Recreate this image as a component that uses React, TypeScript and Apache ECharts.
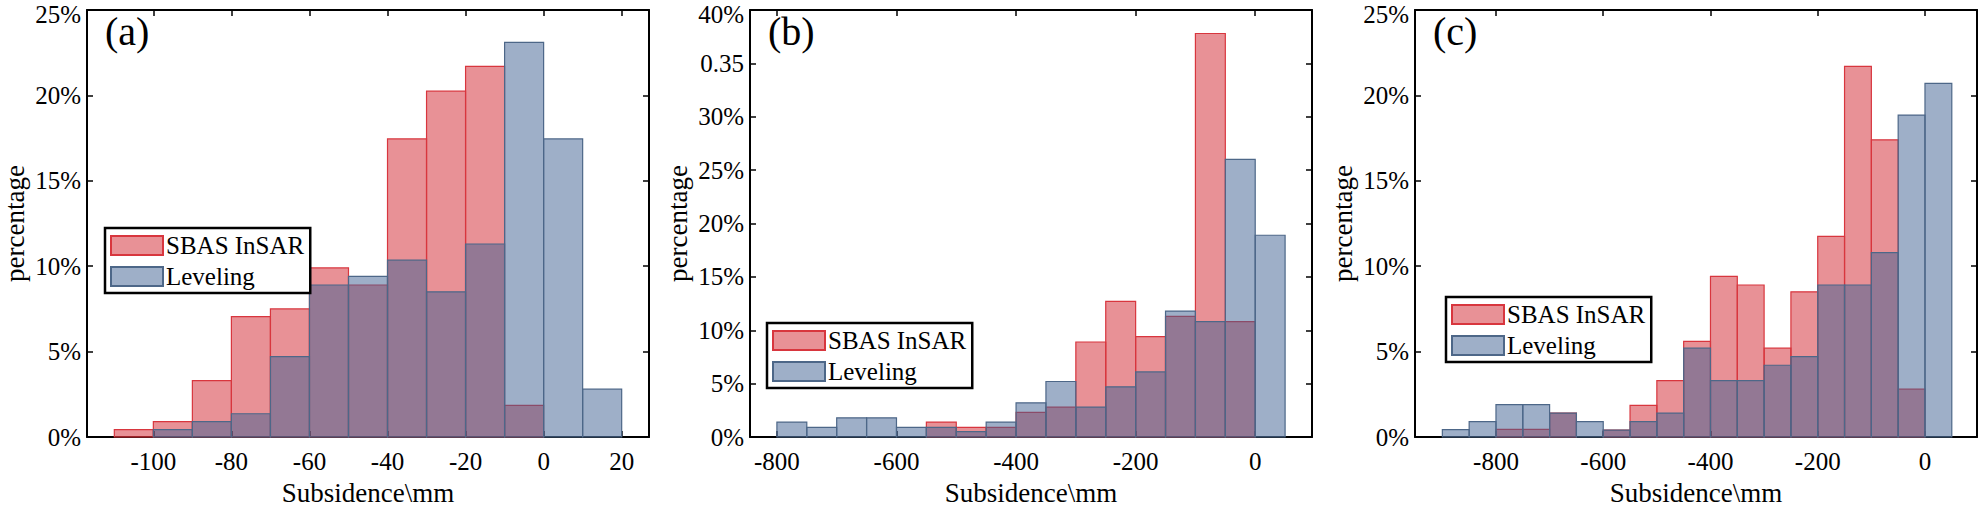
import React, { useEffect, useRef } from "react";
import * as echarts from "echarts";

const binWidthA = 10;
const startA = -110;
const sbasA = [0.43, 0.9, 3.3, 7.05, 7.5, 9.9, 8.9, 17.45, 20.25, 21.7, 1.85, 0, 0];
const levA = [0, 0.43, 0.9, 1.36, 4.7, 8.9, 9.4, 10.35, 8.5, 11.3, 23.1, 17.45, 2.8];
const xTicksA = [-100, -80, -60, -40, -20, 0, 20];

const binWidthB = 50;
const startB = -800;
const sbasB = [0, 0, 0, 0, 0, 1.4, 0.9, 0.9, 2.3, 2.8, 8.9, 12.7, 9.4, 11.3, 37.8, 10.8, 0];
const levB = [1.4, 0.9, 1.8, 1.8, 0.9, 0.9, 0.5, 1.4, 3.2, 5.2, 2.8, 4.7, 6.1, 11.8, 10.8, 26.0, 18.9];
const xTicksB = [-800, -600, -400, -200, 0];

const binWidthC = 50;
const startC = -900;
const sbasC = [0, 0, 0.45, 0.45, 1.4, 0, 0.4, 1.85, 3.3, 5.6, 9.4, 8.9, 5.2, 8.5, 11.75, 21.7, 17.4, 2.8, 0];
const levC = [0.43, 0.9, 1.9, 1.9, 1.4, 0.9, 0.4, 0.9, 1.4, 5.2, 3.3, 3.3, 4.2, 4.7, 8.9, 8.9, 10.8, 18.85, 20.7];
const xTicksC = [-800, -600, -400, -200, 0];

const yTicks25 = [0, 5, 10, 15, 20, 25];
const yTicks40 = [0, 5, 10, 15, 20, 25, 30, 35, 40];
const yLabels25 = ["0%", "5%", "10%", "15%", "20%", "25%"];
const yLabels40 = ["0%", "5%", "10%", "15%", "20%", "25%", "30%", "0.35", "40%"];

const X_TITLE = "Subsidence\\mm";
const Y_TITLE = "percentage";

const FONT = "'Liberation Serif', serif";
const SBAS_FILL = "rgba(209,35,45,0.5)";
const SBAS_STROKE = "#d8363e";
const LEV_FILL = "rgba(61,95,145,0.5)";
const LEV_STROKE = "#4d6788";

function toBins(start: number, w: number, vals: number[]) {
  const out: number[][] = [];
  vals.forEach((v, i) => {
    if (v > 0) out.push([start + i * w, start + (i + 1) * w, v]);
  });
  return out;
}

const renderRect = (fill: string, stroke: string) => (params: any, api: any) => {
  const p0 = api.coord([api.value(0), api.value(2)]);
  const p1 = api.coord([api.value(1), 0]);
  return {
    type: "rect",
    shape: { x: p0[0], y: p0[1], width: p1[0] - p0[0], height: p1[1] - p0[1] },
    style: { fill, stroke, lineWidth: 1.2 },
  };
};

export default function App() {
  const ref = useRef<HTMLDivElement>(null);
  useEffect(() => {
    document.body.style.margin = "0";
    const chart = echarts.init(ref.current!, null, { renderer: "svg" });
    const panels = [
      { left: 87, xmin: -117, xmax: 27, ticks: xTicksA, ymax: 25, yt: yTicks25, yl: yLabels25, start: startA, w: binWidthA, s: sbasA, l: levA, letter: "(a)", legTop: 228, legLeft: 105 },
      { left: 750, xmin: -845, xmax: 95, ticks: xTicksB, ymax: 40, yt: yTicks40, yl: yLabels40, start: startB, w: binWidthB, s: sbasB, l: levB, letter: "(b)", legTop: 323, legLeft: 767 },
      { left: 1415, xmin: -951, xmax: 97, ticks: xTicksC, ymax: 25, yt: yTicks25, yl: yLabels25, start: startC, w: binWidthC, s: sbasC, l: levC, letter: "(c)", legTop: 297, legLeft: 1446 },
    ];
    const W = 562;
    const TOP = 10;
    const H = 427;
    const grid: any[] = [];
    const xAxis: any[] = [];
    const yAxis: any[] = [];
    const series: any[] = [];
    const legend: any[] = [];
    const axisLine = { show: true, onZero: false, lineStyle: { color: "#000", width: 2 } };
    const tick = (vals: number[]) => ({ show: true, inside: true, length: 6, lineStyle: { color: "#000", width: 1.5 }, customValues: vals });
    panels.forEach((p, i) => {
      grid.push({ left: p.left, top: TOP, width: W, height: H });
      [false, true].forEach((top) => {
        xAxis.push({
          type: "value", gridIndex: i, position: top ? "top" : "bottom", min: p.xmin, max: p.xmax,
          axisLine, splitLine: { show: false }, axisTick: tick(p.ticks), axisLabel: { show: false },
        });
        yAxis.push({
          type: "value", gridIndex: i, position: top ? "right" : "left", min: 0, max: p.ymax,
          axisLine, splitLine: { show: false }, axisTick: tick(p.yt), axisLabel: { show: false },
        });
      });
      series.push({
        type: "custom", name: "SBAS InSAR", xAxisIndex: 2 * i, yAxisIndex: 2 * i,
        data: toBins(p.start, p.w, p.s), encode: { x: [0, 1], y: 2 },
        renderItem: renderRect(SBAS_FILL, SBAS_STROKE),
        itemStyle: { color: "rgb(232,145,150)", borderColor: SBAS_STROKE, borderWidth: 1.2 },
      });
      series.push({
        type: "custom", name: "Leveling", xAxisIndex: 2 * i, yAxisIndex: 2 * i,
        data: toBins(p.start, p.w, p.l), encode: { x: [0, 1], y: 2 },
        renderItem: renderRect(LEV_FILL, LEV_STROKE),
        itemStyle: { color: "rgb(158,175,200)", borderColor: LEV_STROKE, borderWidth: 1.2 },
      });
      legend.push({
        left: p.legLeft, top: p.legTop, orient: "vertical", data: ["SBAS InSAR", "Leveling"],
        icon: "rect", itemWidth: 52, itemHeight: 19, itemGap: 6,
        borderColor: "#000", borderWidth: 2.5, borderRadius: 0, padding: [5, 6, 4, 5],
        backgroundColor: "#fff", selectedMode: false,
        textStyle: { color: "#000", fontFamily: FONT, fontSize: 25, padding: [0, 0, 0, -2] },
      });
    });
    chart.setOption({ animation: false, backgroundColor: "#fff", grid, xAxis, yAxis, series, legend });

    const graphic: any[] = [];
    const txt = (x: number, y: number, text: string, size: number, align: string, vAlign: string, rotation = 0) => ({
      type: "text", x, y, rotation, z: 100,
      style: { text, font: `${size}px ${FONT}`, fill: "#000", align, verticalAlign: vAlign },
    });
    panels.forEach((p, i) => {
      p.ticks.forEach((v) => {
        const px = chart.convertToPixel({ xAxisIndex: 2 * i }, v) as number;
        graphic.push(txt(px, TOP + H + 12, String(v), 25, "center", "top"));
      });
      p.yt.forEach((v, k) => {
        const py = chart.convertToPixel({ yAxisIndex: 2 * i }, v) as number;
        graphic.push(txt(p.left - 6, Math.max(py, 14), p.yl[k], 25, "right", "middle"));
      });
      graphic.push(txt(p.left + W / 2, TOP + H + 42, X_TITLE, 27, "center", "top"));
      graphic.push(txt(p.left - 72, TOP + H / 2, Y_TITLE, 27, "center", "middle", Math.PI / 2));
      graphic.push(txt(p.left + 18, 11, p.letter, 40, "left", "top"));
    });
    chart.setOption({ graphic });
    return () => chart.dispose();
  }, []);
  return <div ref={ref} style={{ width: 1982, height: 508 }} />;
}
